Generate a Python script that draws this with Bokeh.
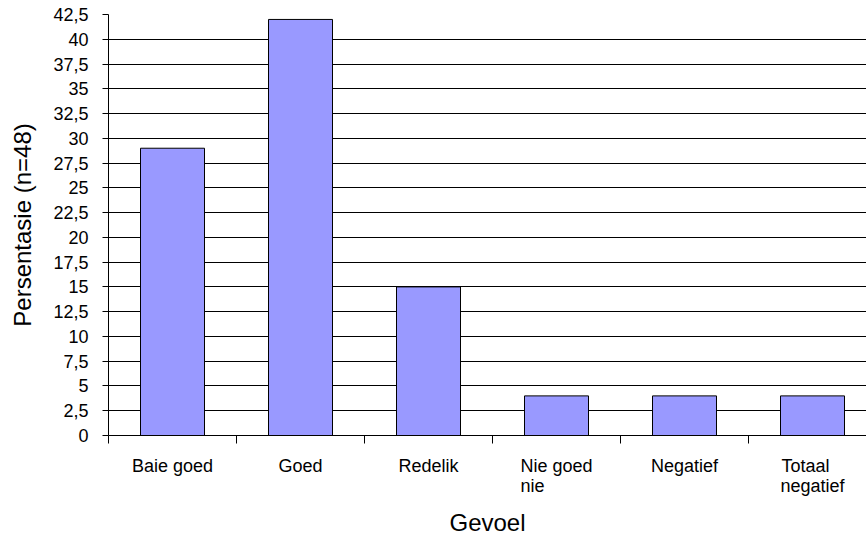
from bokeh.plotting import figure
from bokeh.models import Range1d, FixedTicker, ColumnDataSource, LinearAxis
from bokeh.embed import file_html
from bokeh.resources import INLINE

categories = ["Baie goed", "Goed", "Redelik", "Nie goed\nnie", "Negatief", "Totaal\nnegatief"]
values = [29, 42, 15, 4, 4, 4]
y_ticks = [0, 2.5, 5, 7.5, 10, 12.5, 15, 17.5, 20, 22.5, 25, 27.5, 30, 32.5, 35, 37.5, 40, 42.5]
x_title = "Gevoel"
y_title = "Persentasie (n=48)"

FONT = "Liberation Sans"
LABEL_PX = 18
PX_PER_CAT = 128.0

# Arial / Liberation Sans advance widths (per 1000 em), used to lay out the
# left-aligned two-line category labels centred under each bar
ADV = {'B': 667, 'G': 778, 'R': 722, 'N': 722, 'T': 611, 'a': 556, 'd': 556,
       'e': 556, 'f': 278, 'g': 556, 'i': 222, 'k': 500, 'l': 222, 'n': 556,
       'o': 556, 't': 278, ' ': 278}


def text_width(s, px):
    return sum(ADV.get(ch, 556) for ch in s) * px / 1000.0


n = len(categories)
centers = [i + 0.5 for i in range(n)]

line_pos = [[], []]
line_txt = [[], []]
for c, lab in zip(centers, categories):
    lines = lab.split("\n")
    block = max(text_width(l, LABEL_PX) for l in lines)
    for k, l in enumerate(lines):
        pos = round(c + (text_width(l, LABEL_PX) - block) / 2 / PX_PER_CAT, 4)
        line_pos[k].append(pos)
        line_txt[k].append(l)

src = ColumnDataSource(dict(x=centers, top=values))

W, H = 866, 540
p = figure(width=W, height=H, output_backend="svg", toolbar_location=None,
           x_range=Range1d(0, (W - 108) / PX_PER_CAT), y_range=Range1d(0, y_ticks[-1]),
           min_border_left=108, min_border_top=14, min_border_bottom=H - 435, min_border_right=0)
p.outline_line_color = None
p.background_fill_color = "white"
p.border_fill_color = "white"

p.vbar(x="x", top="top", width=0.5, source=src, fill_color="#9999FF",
       line_color="black", line_width=1)

# y axis
p.yaxis.ticker = FixedTicker(ticks=y_ticks, minor_ticks=[])
p.yaxis.major_label_overrides = {t: (str(int(t)) if float(t).is_integer() else str(t).replace(".", ",")) for t in y_ticks}
p.yaxis.major_tick_out = 6
p.yaxis.major_tick_in = 0
p.yaxis.minor_tick_out = 0
p.yaxis.minor_tick_in = 0
p.yaxis.axis_line_color = "black"
p.yaxis.major_tick_line_color = "black"
p.yaxis.major_label_text_font = FONT
p.yaxis.major_label_text_font_size = "18px"
p.yaxis.major_label_text_color = "black"
p.yaxis.major_label_standoff = 14
p.yaxis.axis_label = y_title
p.yaxis.axis_label_text_font = FONT
p.yaxis.axis_label_text_font_size = "24px"
p.yaxis.axis_label_text_font_style = "normal"
p.yaxis.axis_label_text_color = "black"
p.yaxis.axis_label_standoff = 14

# x axis (first label line): category boundary ticks drawn as minor ticks
xa = p.xaxis[0]
xa.ticker = FixedTicker(ticks=line_pos[0], minor_ticks=list(range(n + 1)))
xa.major_label_overrides = {pos: t for pos, t in zip(line_pos[0], line_txt[0])}
xa.major_label_text_font = FONT
xa.major_label_text_font_size = f"{LABEL_PX}px"
xa.major_label_text_color = "black"
xa.major_label_standoff = 12
xa.major_tick_out = 0
xa.major_tick_in = 0
xa.minor_tick_out = 8
xa.minor_tick_in = 0
xa.minor_tick_line_color = "black"
xa.axis_line_color = "black"

# second label line + axis title
xb = LinearAxis(ticker=FixedTicker(ticks=line_pos[1], minor_ticks=[]))
xb.major_label_overrides = {pos: t for pos, t in zip(line_pos[1], line_txt[1])}
xb.major_label_text_font = FONT
xb.major_label_text_font_size = f"{LABEL_PX}px"
xb.major_label_text_color = "black"
xb.major_label_standoff = -3
xb.major_tick_out = 0
xb.major_tick_in = 0
xb.minor_tick_out = 0
xb.minor_tick_in = 0
xb.axis_line_color = None
xb.major_tick_line_color = None
xb.minor_tick_line_color = None
xb.axis_label = x_title
xb.axis_label_text_font = FONT
xb.axis_label_text_font_size = "24px"
xb.axis_label_text_font_style = "normal"
xb.axis_label_text_color = "black"
xb.axis_label_standoff = 10
p.add_layout(xb, "below")

p.xgrid.grid_line_color = None
p.ygrid.ticker = FixedTicker(ticks=y_ticks)
p.ygrid.grid_line_color = "black"
p.ygrid.grid_line_width = 1

open("out.html", "w").write(file_html(p, INLINE))
